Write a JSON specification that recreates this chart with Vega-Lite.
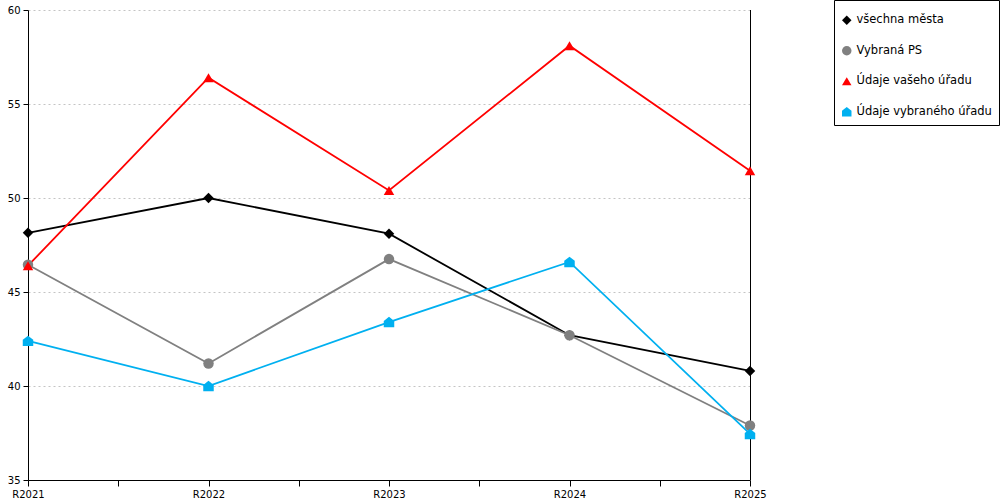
{
  "$schema": "https://vega.github.io/schema/vega-lite/v6.json",
  "autosize": {"type": "none"},
  "padding": {"left": 28, "top": 10, "right": 250, "bottom": 20},
  "width": 722,
  "height": 470,
  "background": "white",
  "data": {
    "values": [
      {"rok": 2021, "rada": "všechna města", "hodnota": 48.15},
      {"rok": 2022, "rada": "všechna města", "hodnota": 50.0},
      {"rok": 2023, "rada": "všechna města", "hodnota": 48.1},
      {"rok": 2024, "rada": "všechna města", "hodnota": 42.7},
      {"rok": 2025, "rada": "všechna města", "hodnota": 40.8},
      {"rok": 2021, "rada": "Vybraná PS", "hodnota": 46.45},
      {"rok": 2022, "rada": "Vybraná PS", "hodnota": 41.2},
      {"rok": 2023, "rada": "Vybraná PS", "hodnota": 46.75},
      {"rok": 2024, "rada": "Vybraná PS", "hodnota": 42.7},
      {"rok": 2025, "rada": "Vybraná PS", "hodnota": 37.9},
      {"rok": 2021, "rada": "Údaje vašeho úřadu", "hodnota": 46.4},
      {"rok": 2022, "rada": "Údaje vašeho úřadu", "hodnota": 56.4},
      {"rok": 2023, "rada": "Údaje vašeho úřadu", "hodnota": 50.4},
      {"rok": 2024, "rada": "Údaje vašeho úřadu", "hodnota": 58.1},
      {"rok": 2025, "rada": "Údaje vašeho úřadu", "hodnota": 51.45},
      {"rok": 2021, "rada": "Údaje vybraného úřadu", "hodnota": 42.4},
      {"rok": 2022, "rada": "Údaje vybraného úřadu", "hodnota": 40.0},
      {"rok": 2023, "rada": "Údaje vybraného úřadu", "hodnota": 43.4},
      {"rok": 2024, "rada": "Údaje vybraného úřadu", "hodnota": 46.6},
      {"rok": 2025, "rada": "Údaje vybraného úřadu", "hodnota": 37.45}
    ]
  },
  "encoding": {
    "x": {
      "field": "rok",
      "type": "quantitative",
      "scale": {"domain": [2021, 2025], "nice": false, "zero": false},
      "axis": {
        "title": null,
        "grid": false,
        "values": [2021, 2021.5, 2022, 2022.5, 2023, 2023.5, 2024, 2024.5, 2025],
        "labelExpr": "datum.value % 1 === 0 ? 'R' + datum.value : ''",
        "labelFlush": false,
        "labelOverlap": false,
        "tickSize": 6,
        "labelPadding": 3
      }
    },
    "y": {
      "field": "hodnota",
      "type": "quantitative",
      "scale": {"domain": [35, 60], "nice": false, "zero": false},
      "axis": {
        "title": null,
        "values": [35, 40, 45, 50, 55, 60],
        "grid": true,
        "gridDash": [2, 3],
        "gridColor": "#c4c4c4",
        "gridOpacity": 1,
        "tickSize": 5,
        "labelPadding": 3
      }
    },
    "color": {
      "field": "rada",
      "type": "nominal",
      "scale": {
        "domain": ["všechna města", "Vybraná PS", "Údaje vašeho úřadu", "Údaje vybraného úřadu"],
        "range": ["#000000", "#808080", "#ff0000", "#00b0f0"]
      },
      "title": " "
    }
  },
  "layer": [
    {
      "mark": {"type": "rule", "color": "black", "strokeWidth": 1, "xOffset": 0.5},
      "encoding": {"x": {"datum": 2025}, "y": null, "color": null}
    },
    {
      "mark": {"type": "line", "strokeWidth": 1.8}
    },
    {
      "mark": {"type": "point", "filled": true, "size": 110, "opacity": 1},
      "encoding": {
        "shape": {
          "field": "rada",
          "type": "nominal",
          "scale": {
            "domain": ["všechna města", "Vybraná PS", "Údaje vašeho úřadu", "Údaje vybraného úřadu"],
            "range": ["diamond", "circle", "triangle-up", "M0,-1L1,-0.2L1,1L-1,1L-1,-0.2Z"]
          },
          "title": " "
        }
      }
    }
  ],
  "config": {
    "view": {"stroke": null},
    "font": "DejaVu Sans",
    "axis": {
      "labelFont": "DejaVu Sans",
      "labelFontSize": 10,
      "labelColor": "black",
      "domainColor": "black",
      "tickColor": "black",
      "domainWidth": 1,
      "tickWidth": 1
    },
    "legend": {
      "orient": "none",
      "legendX": 806,
      "legendY": -10,
      "strokeColor": "black",
      "fillColor": "white",
      "padding": 7,
      "cornerRadius": 0,
      "titleFontSize": 7.5,
      "titlePadding": 0,
      "labelFont": "DejaVu Sans",
      "labelFontSize": 11.5,
      "labelColor": "black",
      "labelLimit": 300,
      "symbolSize": 90,
      "symbolStrokeWidth": 0,
      "labelOffset": 4,
      "rowPadding": 17.5
    }
  }
}
